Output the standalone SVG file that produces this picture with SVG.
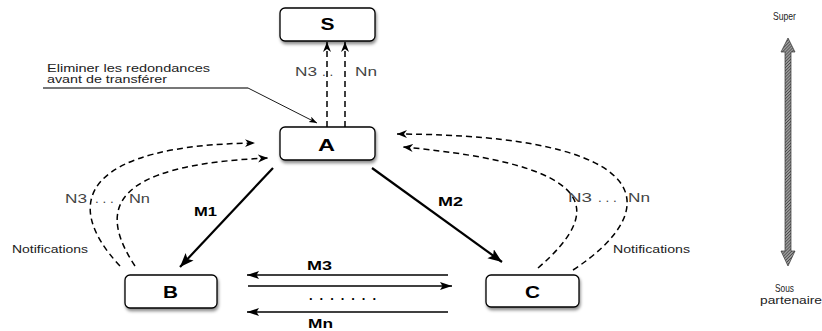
<svg xmlns="http://www.w3.org/2000/svg" width="822" height="331" viewBox="0 0 822 331">
<style>
.box{fill:#fff;stroke:#000;stroke-width:1.3;filter:url(#sh)}
.nl{font-family:"Liberation Sans",Arial,sans-serif;font-weight:bold;font-size:16px;fill:#000;text-anchor:middle}
.lbl{font-family:"Liberation Sans",Arial,sans-serif;font-size:13.5px;fill:#444}
.note{font-family:"Liberation Sans",Arial,sans-serif;font-size:11.5px;fill:#222}
.ax{font-family:"Liberation Sans",Arial,sans-serif;font-size:10.5px;fill:#222}
.m{font-family:"Liberation Sans",Arial,sans-serif;font-size:13px;font-weight:bold;fill:#000}
.dash{fill:none;stroke:#000;stroke-width:1.5;stroke-dasharray:6,4;marker-end:url(#ad)}
.solid{fill:none;stroke:#000;stroke-width:2.2;marker-end:url(#ab)}
.hl{fill:none;stroke:#000;stroke-width:1.5}
</style>
<defs>
<filter id="sh" x="-20%" y="-20%" width="140%" height="160%">
<feDropShadow dx="1" dy="2.5" stdDeviation="1.5" flood-color="#000" flood-opacity="0.45"/>
</filter>
<marker id="ad" markerUnits="userSpaceOnUse" markerWidth="12" markerHeight="10" refX="10" refY="4" orient="auto">
<path d="M0,0 L10,4 L0,8 L3,4 z" fill="#000"/>
</marker>
<marker id="ab" markerUnits="userSpaceOnUse" markerWidth="16" markerHeight="12" refX="14" refY="5.5" orient="auto">
<path d="M0,0 L14,5.5 L0,11 L3,5.5 z" fill="#000"/>
</marker>
<marker id="ah" markerUnits="userSpaceOnUse" markerWidth="14" markerHeight="10" refX="12" refY="4" orient="auto">
<path d="M0,0 L12,4 L0,8 L2.5,4 z" fill="#000"/>
</marker>
<marker id="at" markerUnits="userSpaceOnUse" markerWidth="10" markerHeight="8" refX="8" refY="3" orient="auto">
<path d="M0,0 L8,3 L0,6 L2,3 z" fill="#000"/>
</marker>
<pattern id="hatch" width="2.2" height="2.2" patternUnits="userSpaceOnUse" patternTransform="rotate(45)">
<rect width="2.2" height="2.2" fill="#9a9a9a"/>
<line x1="0" y1="0" x2="0" y2="2.2" stroke="#222" stroke-width="1"/>
</pattern>
</defs>

<g id="connectors">
<path class="dash" d="M327,127 L327,42"/>
<path class="dash" d="M345,127 L345,42"/>
<path class="solid" d="M273,168 L180,267"/>
<path class="solid" d="M372,168 L502,262"/>
<path class="dash" d="M120,266 C58,200 88,145 255,143"/>
<path class="dash" d="M135,266 C98,210 108,165 268,158"/>
<path class="dash" d="M573,270 C665,210 660,135 397,134"/>
<path class="dash" d="M538,268 C605,210 600,165 403,147"/>
<path class="hl" d="M448,275 L247,275" marker-end="url(#ah)"/>
<path class="hl" d="M248,286 L452,286" marker-end="url(#ah)"/>
<path class="hl" d="M448,312 L247,312" marker-end="url(#ah)"/>
<path d="M43,88 L248,88" fill="none" stroke="#777" stroke-width="1.8"/>
<path d="M248,88 L317,123" fill="none" stroke="#000" stroke-width="0.9" marker-end="url(#at)"/>
</g>

<g id="node-S">
<rect class="box" x="280" y="8" width="95" height="33" rx="5"/>
<text class="nl" x="327.5" y="30" textLength="14" lengthAdjust="spacingAndGlyphs">S</text>
</g>
<g id="node-A">
<rect class="box" x="280" y="127" width="95" height="33" rx="5"/>
<text class="nl" x="326.5" y="151" textLength="17" lengthAdjust="spacingAndGlyphs">A</text>
</g>
<g id="node-B">
<rect class="box" x="125" y="275" width="92" height="33" rx="5"/>
<text class="nl" x="170.5" y="298" textLength="15" lengthAdjust="spacingAndGlyphs">B</text>
</g>
<g id="node-C">
<rect class="box" x="486" y="275" width="93" height="32" rx="5"/>
<text class="nl" x="532.5" y="298" textLength="15" lengthAdjust="spacingAndGlyphs">C</text>
</g>

<g id="labels">
<text class="note" x="47" y="72" textLength="163" lengthAdjust="spacingAndGlyphs">Eliminer les redondances</text>
<text class="note" x="47" y="83" textLength="120" lengthAdjust="spacingAndGlyphs">avant de transférer</text>
<text class="lbl" x="295" y="76" textLength="22" lengthAdjust="spacingAndGlyphs">N3</text>
<text class="lbl" x="322" y="76">. .</text>
<text class="lbl" x="355" y="76" textLength="22" lengthAdjust="spacingAndGlyphs">Nn</text>
<text class="lbl" x="65" y="203" textLength="22" lengthAdjust="spacingAndGlyphs">N3</text>
<text class="lbl" x="95" y="203">. . .</text>
<text class="lbl" x="129" y="203" textLength="21" lengthAdjust="spacingAndGlyphs">Nn</text>
<text class="lbl" x="568" y="202" textLength="24" lengthAdjust="spacingAndGlyphs">N3</text>
<text class="lbl" x="598" y="202">. . .</text>
<text class="lbl" x="628" y="202" textLength="22" lengthAdjust="spacingAndGlyphs">Nn</text>
<text class="note" x="12" y="253" textLength="76" lengthAdjust="spacingAndGlyphs">Notifications</text>
<text class="note" x="613" y="253" textLength="77" lengthAdjust="spacingAndGlyphs">Notifications</text>
<text class="m" x="194" y="216" textLength="23" lengthAdjust="spacingAndGlyphs">M1</text>
<text class="m" x="438" y="206" textLength="25" lengthAdjust="spacingAndGlyphs">M2</text>
<text class="m" x="307" y="270" textLength="25" lengthAdjust="spacingAndGlyphs">M3</text>
<text class="m" x="309" y="300" textLength="67" lengthAdjust="spacing">. . . . . . .</text>
<text class="m" x="308" y="328" textLength="25" lengthAdjust="spacingAndGlyphs">Mn</text>
</g>

<g id="axis">
<polygon points="788,38 795,52 791,52 791,251 795,251 788,266 781,251 785,251 785,52 781,52" fill="url(#hatch)" stroke="#333" stroke-width="0.7"/>
<text class="ax" x="773" y="20" textLength="23" lengthAdjust="spacingAndGlyphs">Super</text>
<text class="ax" x="775" y="292" textLength="19" lengthAdjust="spacingAndGlyphs">Sous</text>
<text class="ax" x="760" y="304" textLength="62" lengthAdjust="spacingAndGlyphs">partenaire</text>
</g>
</svg>
